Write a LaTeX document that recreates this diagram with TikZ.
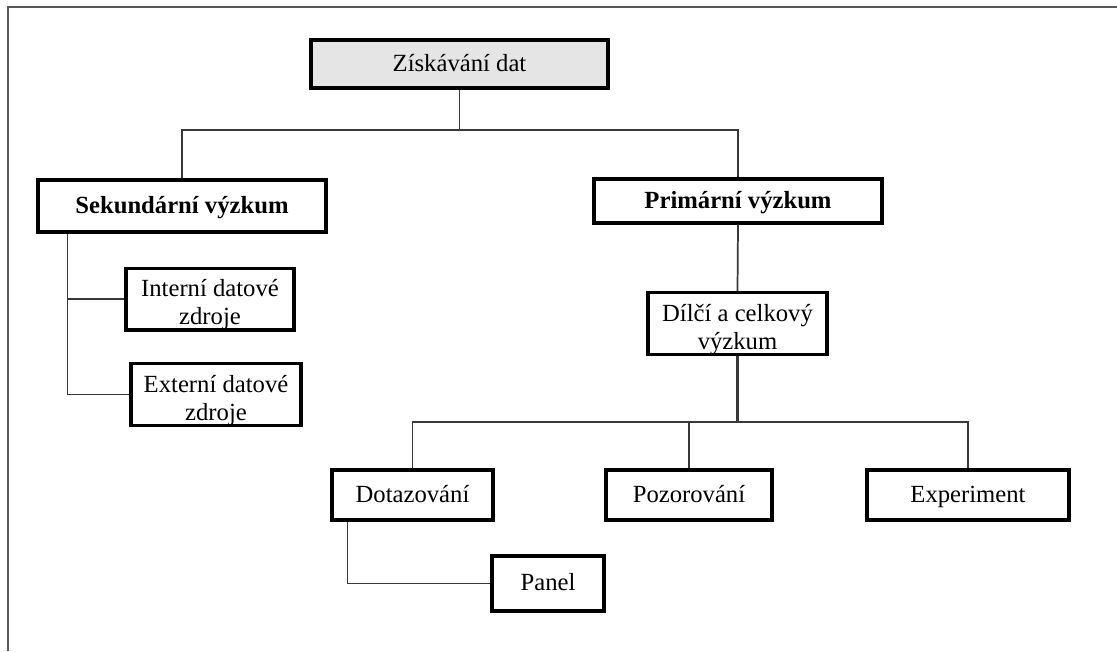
\documentclass[tikz,border=0pt]{standalone}
\usepackage{fontspec}
\setmainfont{Liberation Serif}
% invisible rule that gives the first text line of a box some extra height
\newcommand\firstlinestrut{\rule{0pt}{21.5pt}}
\begin{document}
\begin{tikzpicture}[x=0.75pt,y=-0.75pt,
  box/.style={draw=black, line width=2.3pt, fill=white, inner sep=0pt,
    font=\fontsize{18.5}{21}\selectfont},
  oneline/.style={box, text height=14.8pt, text depth=4.1pt},
  twoline/.style={box, align=center},
  link/.style={draw=black!78, line width=1.3pt},
  frame/.style={draw=black!65, line width=1.1pt}]
\useasboundingbox (0,0) rectangle (1117,651);

% outer frame (left and top edges)
\draw[frame] (8,651) -- (8,7) -- (1117,7);

% boxes
\node[oneline, fill=black!10, minimum width=297*0.75pt, minimum height=48*0.75pt] (top) at (459.5,64) {Získávání dat};
\node[oneline, minimum width=288*0.75pt, minimum height=52*0.75pt] (sek) at (182,206) {\textbf{Sekundární výzkum}};
\node[oneline, minimum width=288*0.75pt, minimum height=44*0.75pt] (prim) at (738,201) {\textbf{Primární výzkum}};
\node[twoline, minimum width=168*0.75pt, minimum height=60*0.75pt] (int) at (210,299) {\firstlinestrut Interní datové\\zdroje};
\node[twoline, minimum width=170*0.75pt, minimum height=57*0.75pt] (ext) at (216,394.5) {\firstlinestrut Externí datové\\zdroje};
\node[twoline, minimum width=179*0.75pt, minimum height=55*0.75pt] (dil) at (737.5,323.5) {\firstlinestrut Dílčí a celkový\\výzkum};
\node[oneline, minimum width=161*0.75pt, minimum height=50*0.75pt] (dot) at (412.5,495) {Dotazování};
\node[oneline, minimum width=166*0.75pt, minimum height=50*0.75pt] (poz) at (689,495) {Pozorování};
\node[oneline, minimum width=202*0.75pt, minimum height=50*0.75pt] (exp) at (968,495) {Experiment};
\node[oneline, minimum width=112*0.75pt, minimum height=55*0.75pt] (pan) at (548,583.5) {Panel};

% junctions of the tree
\coordinate (j1) at (459.5,130);
\coordinate (j2) at (737.5,422);

% connectors
\draw[link] (top.south) -- (j1);
\draw[link] (sek.north) |- (j1) -| (prim.north);
\draw[link] (prim.south) -- (dil.north);
\draw[link, line width=1.7pt] (dil.south) -- (j2);
\draw[link] (dot.north) |- (j2) -| (exp.north);
\draw[link] (poz.north) -- (poz.north |- j2);
\draw[link] ([shift={(31,0)}]sek.south west) |- (ext.west);
\draw[link] (int.west) -| ([shift={(31,0)}]sek.south west);
\draw[link] ([shift={(17,0)}]dot.south west) |- (pan.west);
\end{tikzpicture}
\end{document}
